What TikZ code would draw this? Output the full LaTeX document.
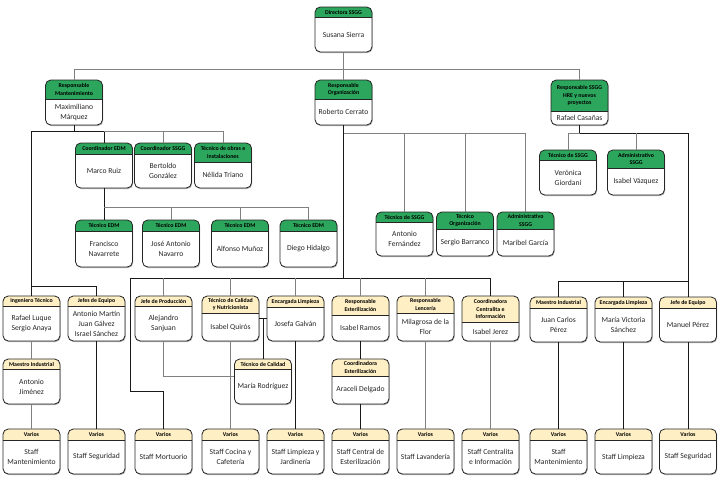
\documentclass[tikz,border=0pt]{standalone}
\usepackage{fontspec}
\setmainfont{Carlito}
\definecolor{hgreen}{RGB}{44,166,92}
\definecolor{hbeige}{RGB}{255,239,197}
\tikzset{
  boxshape/.style={draw=black!85, line width=0.7pt, rounded corners=4.5pt, minimum width=17.1mm, inner sep=0pt},
  hdrtext/.style={font=\fontsize{5}{6.6}\selectfont\bfseries, align=center, inner sep=0pt, text=black},
  bodytext/.style={font=\fontsize{6.5}{8.5}\selectfont, align=center, inner sep=0pt, text=black!85},
  conn/.style={draw=black!50, line width=0.6pt},
  connd/.style={draw=black!90, line width=0.6pt},
}
% #1 name, #2 cx, #3 ytop, #4 yheader, #5 ybottom, #6 colour, #7 header, #8 body
\newcommand\ob[8]{%
  \fill[black!30, rounded corners=4.5pt] (#2-28.5+0.7,#3+1) rectangle (#2+28.5+0.7,#5+1.1);
  \fill[white, rounded corners=4.5pt] (#2-28.5,#3) rectangle (#2+28.5,#5);
  \fill[#6] (#2-28.5,#4) [rounded corners=4.5pt] -- (#2-28.5,#3) -- (#2+28.5,#3) [sharp corners] -- (#2+28.5,#4) -- cycle;
  \draw[black!85, line width=0.6pt] (#2-28.5,#4) -- (#2+28.5,#4);
  \node[boxshape, minimum height={(#5-#3)*0.3mm}] (#1) at (#2,{(#3+#5)/2}) {};
  \node[hdrtext] (#1h) at (#2,{(#3+#4)/2}) {#7};
  \node[bodytext] (#1b) at (#2,{(#4+#5)/2}) {#8};
}
\begin{document}
\begin{tikzpicture}[x=0.3mm, y=-0.3mm]
\useasboundingbox (0,0) rectangle (718,491);
% bar coordinates
\coordinate (b0) at (0,69);
\coordinate (b1) at (0,131);
\coordinate (b2) at (0,286);
\coordinate (b3) at (0,207);
\coordinate (b4) at (0,133);
\coordinate (b5) at (0,278);
\coordinate (b7) at (0,281);
\coordinate (pc) at (0,376);
\coordinate (mort) at (130,278);
\coordinate (mortb) at (130,391);
% level 0 / 1
\ob{dir}{343.5}{7}{17}{52}{hgreen}{Directora SSGG}{Susana Sierra}
\ob{rman}{74}{80}{99}{125}{hgreen}{Responsable\\Mantenimiento}{Maximiliano\\Márquez}
\ob{rorg}{343.5}{80}{99}{125}{hgreen}{Responsable\\Organización}{Roberto Cerrato}
\ob{rssgg}{579.5}{80}{111}{125}{hgreen}{Responsable SSGG\\HRE y nuevos\\proyectos}{Rafael Casañas}
% mantenimiento level 2
\ob{cedm}{104}{143}{154}{188}{hgreen}{Coordinador EDM}{Marco Ruiz}
\ob{cssgg}{163}{143}{154}{188}{hgreen}{Coordinador SSGG}{Bertoldo\\González}
\ob{tobras}{223}{143}{162}{188}{hgreen}{Técnico de obras e\\instalaciones}{Nélida Triano}
% tecnicos EDM
\ob{edma}{104}{220}{231}{267}{hgreen}{Técnico EDM}{Francisco\\Navarrete}
\ob{edmb}{171}{220}{231}{267}{hgreen}{Técnico EDM}{José Antonio\\Navarro}
\ob{edmc}{240}{220}{231}{267}{hgreen}{Técnico EDM}{Alfonso Muñoz}
\ob{edmd}{308.5}{220}{231}{267}{hgreen}{Técnico EDM}{Diego Hidalgo}
% organizacion
\ob{tssgga}{404.5}{212}{222}{256}{hgreen}{Técnico de SSGG}{Antonio\\Fernández}
\ob{torg}{465}{212}{229}{256}{hgreen}{Técnico\\Organización}{Sergio Barranco}
\ob{adma}{525.5}{212}{229}{256}{hgreen}{Administrativo\\SSGG}{Maribel García}
% SSGG HRE
\ob{tssggb}{568}{150}{160}{195}{hgreen}{Técnico de SSGG}{Verónica\\Giordani}
\ob{admb}{636}{150}{168}{195}{hgreen}{Administrativo\\SSGG}{Isabel Vázquez}
% beige row A
\ob{ingt}{31.5}{296}{306}{341}{hbeige}{Ingeniero Técnico}{Rafael Luque\\Sergio Anaya}
\ob{jefeqa}{96.5}{296}{306}{341}{hbeige}{Jefes de Equipo}{Antonio Martín\\Juan Gálvez\\Israel Sánchez}
\ob{jprod}{163.5}{296}{306}{341}{hbeige}{Jefe de Producción}{Alejandro\\Sanjuan}
\ob{tcaln}{230.5}{296}{313}{341}{hbeige}{Técnico de Calidad\\y Nutricionista}{Isabel Quirós}
\ob{elimpa}{295.5}{296}{307}{341}{hbeige}{Encargada Limpieza}{Josefa Galván}
\ob{resest}{360.5}{296}{315}{341}{hbeige}{Responsable\\Esterilización}{Isabel Ramos}
\ob{reslen}{425.5}{296}{313}{341}{hbeige}{Responsable\\Lencería}{Milagrosa de la\\Flor}
\ob{coorcen}{490.5}{296}{322}{341}{hbeige}{Coordinadora\\Centralita e\\Información}{Isabel Jerez}
\ob{maestb}{558.5}{297}{308}{342}{hbeige}{Maestro Industrial}{Juan Carlos\\Pérez}
\ob{elimpb}{623.5}{297}{308}{342}{hbeige}{Encargada Limpieza}{María Victoria\\Sánchez}
\ob{jefeqb}{688}{297}{308}{342}{hbeige}{Jefe de Equipo}{Manuel Pérez}
% beige row B
\ob{maesta}{31.5}{359}{369}{404}{hbeige}{Maestro Industrial}{Antonio\\Jiménez}
\ob{tcal}{263}{359}{369}{404}{hbeige}{Técnico de Calidad}{María Rodríguez}
\ob{coorest}{360.5}{359}{376}{404}{hbeige}{Coordinadora\\Esterilización}{Araceli Delgado}
% varios
\ob{va}{31.5}{429}{440}{474}{hbeige}{Varios}{Staff\\Mantenimiento}
\ob{vb}{96.5}{429}{440}{474}{hbeige}{Varios}{Staff Seguridad}
\ob{vc}{163.5}{429}{440}{474}{hbeige}{Varios}{Staff Mortuorio}
\ob{vd}{230.5}{429}{440}{474}{hbeige}{Varios}{Staff Cocina y\\Cafetería}
\ob{ve}{295.5}{429}{440}{474}{hbeige}{Varios}{Staff Limpieza y\\Jardinería}
\ob{vf}{360.5}{429}{440}{474}{hbeige}{Varios}{Staff Central de\\Esterilización}
\ob{vg}{425.5}{429}{440}{474}{hbeige}{Varios}{Staff Lavandería}
\ob{vh}{490.5}{429}{440}{474}{hbeige}{Varios}{Staff Centralita\\e Información}
\ob{vi}{558.5}{429}{440}{474}{hbeige}{Varios}{Staff\\Mantenimiento}
\ob{vj}{623.5}{429}{440}{474}{hbeige}{Varios}{Staff Limpieza}
\ob{vk}{688}{429}{440}{474}{hbeige}{Varios}{Staff Seguridad}
% top
\draw[conn] (dir.south) -- (dir.south |- b0);
\draw[conn] (rman.north) |- (rssgg.north |- b0) -- (rssgg.north);
\draw[conn] (rorg.north) -- (rorg.north |- b0);
% mantenimiento
\draw[connd] (rman.south) -- (rman.south |- b1);
\draw[connd] (ingt.north) |- (cedm.north |- b1) -- (cedm.north);
\draw[conn] (cedm.north |- b1) -| (tobras.north);
\draw[conn] (cssgg.north) -- (cssgg.north |- b1);
\draw[connd] (jefeqa.north) |- (ingt.north |- b2);
% EDM
\draw[connd] (cedm.south) -- (edma.north);
\draw[conn] (cedm.south |- b3) -| (edmd.north);
\draw[conn] (edmb.north) -- (edmb.north |- b3);
\draw[conn] (edmc.north) -- (edmc.north |- b3);
% organizacion
\draw[connd] (rorg.south) -- (rorg.south |- b5);
\draw[conn] (rorg.south |- b4) -| (adma.north);
\draw[conn] (tssgga.north) -- (tssgga.north |- b4);
\draw[conn] (torg.north) -- (torg.north |- b4);
\draw[connd] (coorcen.north) |- (mort) -- (mortb) -| (vc.north);
\draw[conn] (jprod.north) -- (jprod.north |- b5);
\draw[conn] (tcaln.north) -- (tcaln.north |- b5);
\draw[conn] (elimpa.north) -- (elimpa.north |- b5);
\draw[conn] (resest.north) -- (resest.north |- b5);
\draw[conn] (reslen.north) -- (reslen.north |- b5);
% SSGG HRE
\draw[connd] (rssgg.south) -- (rssgg.south |- b4);
\draw[conn] (tssggb.north) |- (rssgg.south |- b4);
\draw[connd] (rssgg.south |- b4) -| (jefeqb.north);
\draw[conn] (admb.north) -- (admb.north |- b4);
\draw[connd] (jefeqb.north |- b7) -| (maestb.north);
\draw[connd] (elimpb.north) -- (elimpb.north |- b7);
% lower
\draw[conn] (ingt.south) -- (maesta.north);
\draw[conn] (maesta.south) -- (va.north);
\draw[connd] (jefeqa.south) -- (vb.north);
\draw[conn] (jprod.south) |- (tcal.west |- pc);
\draw[conn] (tcaln.south) -- (vd.north);
\draw[connd] (tcaln.east) -- (elimpa.west);
\draw[connd] (tcal.north) -- (tcal.north |- tcaln.east);
\draw[connd] (elimpa.south) -- (ve.north);
\draw[connd] (resest.south) -- (coorest.north);
\draw[connd] (coorest.south) -- (vf.north);
\draw[conn] (reslen.south) -- (vg.north);
\draw[conn] (coorcen.south) -- (vh.north);
\draw[connd] (maestb.south) -- (vi.north);
\draw[connd] (elimpb.south) -- (vj.north);
\draw[connd] (jefeqb.south) -- (vk.north);
\end{tikzpicture}
\end{document}
